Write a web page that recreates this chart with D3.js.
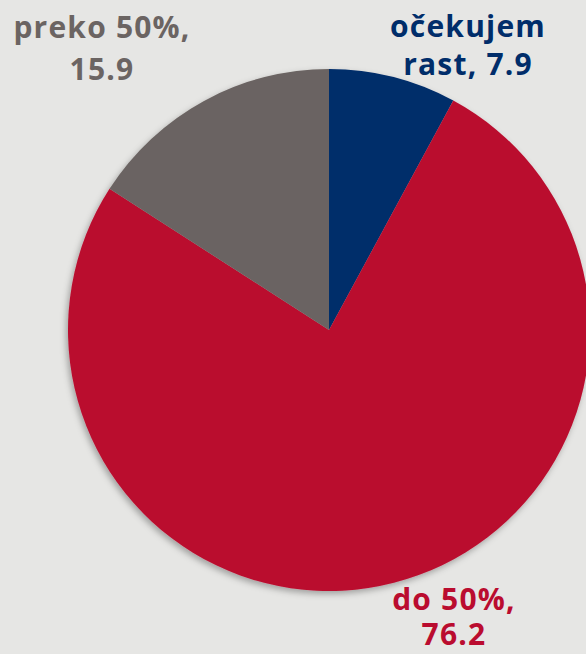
<!DOCTYPE html>
<html><head><meta charset="utf-8">
<script src="https://cdn.jsdelivr.net/npm/d3@7"></script>
<style>html,body{margin:0;padding:0;background:#e6e6e4;}svg{display:block;}</style>
</head><body>
<script>
const categories = ["očekujem rast", "do 50%", "preko 50%"];
const values = [7.9, 76.2, 15.9];
const labelLines = [["očekujem", "rast, 7.9"], ["do 50%,", "76.2"], ["preko 50%,", "15.9"]];
const colors = ["#002d6a", "#ba0c2f", "#6b6462"];

const W = 586, H = 654, cx = 329, cy = 330, R = 261;
const svg = d3.select("body").append("svg").attr("width", W).attr("height", H);
svg.append("rect").attr("width", W).attr("height", H).attr("fill", "#e6e6e4");
const defs = svg.append("defs");
const f = defs.append("filter").attr("id", "sh").attr("x", "-20%").attr("y", "-20%").attr("width", "140%").attr("height", "140%");
f.append("feDropShadow").attr("dx", -2).attr("dy", 3).attr("stdDeviation", 3).attr("flood-color", "#000").attr("flood-opacity", 0.3);

const pie = d3.pie().sort(null).value(d => d)(values);
const arc = d3.arc().innerRadius(0).outerRadius(R);
const g = svg.append("g").attr("transform", `translate(${cx},${cy})`).attr("filter", "url(#sh)");
g.selectAll("path").data(pie).join("path").attr("d", arc).attr("fill", (d, i) => colors[i]);

// [x center, first baseline, line gap]
const labelPos = [[468, 37, 38], [454, 610, 35], [102, 38, 42]];
const font = "'Open Sans', 'DejaVu Sans', sans-serif";
labelLines.forEach((lines, i) => {
  lines.forEach((l, j) => svg.append("text").attr("text-anchor", "middle")
    .attr("font-family", font).attr("font-weight", 700).attr("font-size", 30)
    .attr("letter-spacing", 1.2)
    .attr("fill", colors[i])
    .attr("x", labelPos[i][0]).attr("y", labelPos[i][1] + j * labelPos[i][2]).text(l));
});
</script>
</body></html>
